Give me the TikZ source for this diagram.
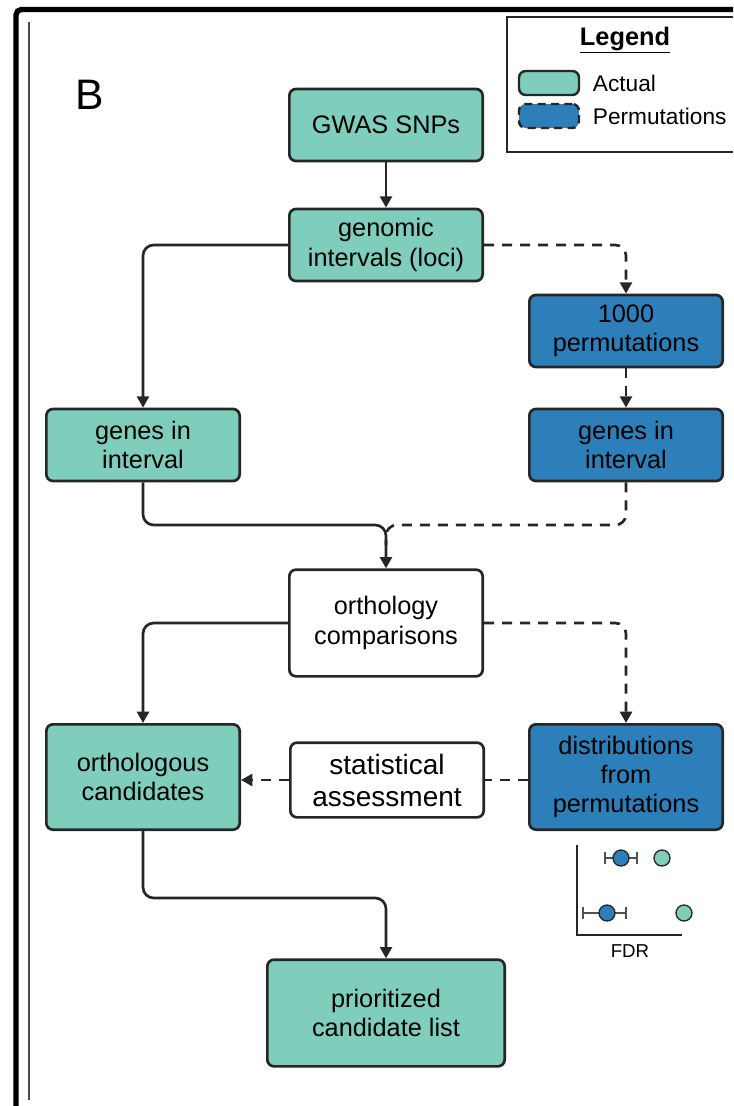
\documentclass[tikz,border=0pt]{standalone}
\usepackage{fontspec}
\setmainfont{Liberation Sans}
\usetikzlibrary{arrows.meta,positioning}
\definecolor{actual}{HTML}{7FCDBB}
\definecolor{perm}{HTML}{2C7FB8}
\definecolor{edge}{HTML}{262626}

\begin{document}
\begin{tikzpicture}[x=0.75pt,y=-0.75pt,
    box/.style={draw=edge, line width=2pt, rounded corners=5pt, minimum width=145pt,
      minimum height=54pt, align=center, inner sep=2pt,
      font=\fontsize{19}{22}\selectfont},
    act/.style={box, fill=actual},
    prm/.style={box, fill=perm},
    plain/.style={box, fill=white},
    link/.style={draw=edge, line width=2pt, rounded corners=8pt,
      -{Triangle[width=9pt,length=8.5pt]}},
    permlink/.style={link, dash pattern=on 7.5pt off 6pt},
    permline/.style={permlink, -},
    swatch/.style={draw=edge, line width=1.8pt, rounded corners=5pt,
      minimum width=45pt, minimum height=18pt},
    dot/.style={circle, draw=edge, line width=1pt, minimum size=12pt, inner sep=0pt}]
    \useasboundingbox (0,0) rectangle (733,1106);

    % frame
    \draw[line width=4pt, rounded corners=4pt] (16,1106) -- (16,9.5) -- (733,9.5);
    \draw[gray!60!black, line width=1.5pt] (28.5,22) -- (28.5,1100);
    \node[font=\fontsize{32}{32}\selectfont] (panel) at (90,95) {B};

    % legend
    \draw[edge, line width=1.5pt] (733,17) -- (507,17) -- (507,152) -- (733,152);
    \node[font=\fontsize{19}{22}\selectfont\bfseries] (legtitle) at (625,40) {\underline{Legend}};
    \node[swatch, fill=actual] (swact) at (549,83) {};
    \node[swatch, fill=perm, dash pattern=on 6pt off 4pt] (swperm) at (549,116) {};
    \node[right=6pt of swact, font=\fontsize{17}{20}\selectfont] (legact) {Actual};
    \node[right=6pt of swperm, font=\fontsize{17}{20}\selectfont] (legperm) {Permutations};

    % boxes
    \node[act] (gwas) at (386,125) {GWAS SNPs};
    \node[act] (loci) at (386,245) {genomic\\intervals (loci)};
    \node[prm] (perms) at (626,331) {1000\\permutations};
    \node[act] (genesA) at (143,445) {genes in\\interval};
    \node[prm] (genesP) at (626,445) {genes in\\interval};
    \node[plain, minimum height=80pt] (ortho) at (386,623) {orthology\\comparisons};
    \node[act, minimum height=79pt] (cands) at (143,777) {orthologous\\candidates};
    \node[plain, minimum height=56pt, font=\fontsize{21}{24}\selectfont] (stats) at (387,780) {statistical\\assessment};
    \node[prm, minimum height=79pt] (dist) at (626,777) {distributions\\from\\permutations};
    \node[act, minimum width=178pt, minimum height=80pt] (final) at (386,1013) {prioritized\\candidate list};

    % connectors
    \coordinate (join) at (386,525);
    \coordinate (joinend) at (386,545);
    \coordinate (merge) at (386,898);
    \draw[link] (gwas) -- (loci);
    \draw[link] (loci.west) -| (genesA.north);
    \draw[permlink] (loci.east) -| (perms.north);
    \draw[permlink] (perms) -- (genesP);
    \draw[permline] (genesP.south) |- (join) -- (joinend);
    \draw[link] (genesA.south) |- (join) -- (ortho.north);
    \draw[link] (ortho.west) -| (cands.north);
    \draw[permlink] (ortho.east) -| (dist.north);
    \draw[permline] (stats.east -| dist.west) -- (stats.east);
    \draw[permlink] (stats.west) -- (stats.west -| cands.east);
    \draw[link] (cands.south) |- (merge) -- (final.north);

    % FDR plot
    \draw[edge, line width=1.2pt] (577,845) -- (577,935) -- (682,935);
    \node[font=\fontsize{14}{16}\selectfont] (fdr) at (630,951) {FDR};
    \draw[edge!80, line width=1.2pt] (605,852) -- (605,864) (605,858) -- (637,858) (637,852) -- (637,864);
    \draw[edge!80, line width=1.2pt] (583,907) -- (583,919) (583,913) -- (626,913) (626,907) -- (626,919);
    \node[dot, fill=perm] (d1) at (621,858) {};
    \node[dot, fill=actual] (d2) at (662,858) {};
    \node[dot, fill=perm] (d3) at (607,913) {};
    \node[dot, fill=actual] (d4) at (684,913) {};
\end{tikzpicture}
\end{document}
